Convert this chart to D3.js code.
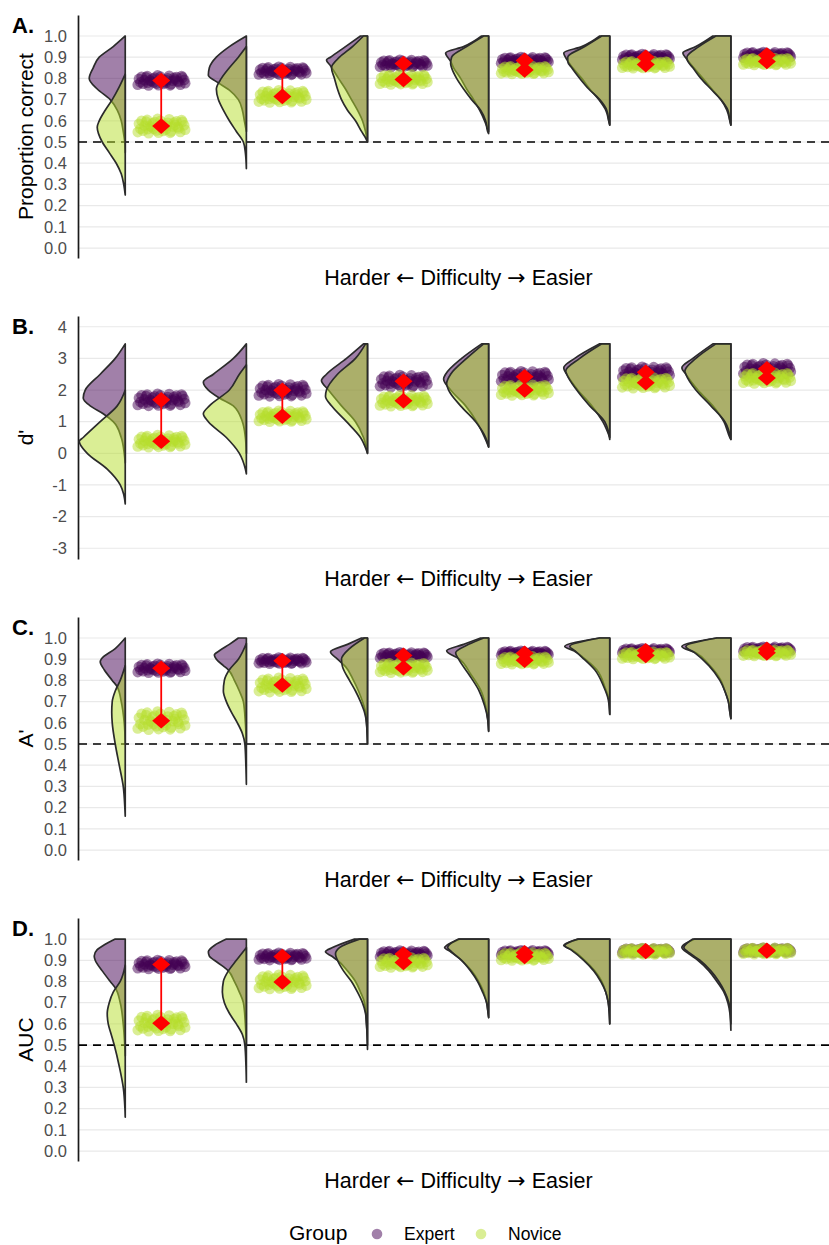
<!DOCTYPE html>
<html><head><meta charset="utf-8">
<script src="https://cdn.jsdelivr.net/npm/d3@7"></script>
<style>
body{margin:0;background:#fff}
svg{display:block}
text{font-family:"Liberation Sans",Arial,Helvetica,sans-serif}
</style></head>
<body><svg id="chart" width="829" height="1245"></svg>
<script>
// ---------------- DATA ----------------
const levels = ["L1","L2","L3","L4","L5","L6"];      // difficulty: harder -> easier
const groups = ["Expert","Novice"];
const panelLabels = ["A.","B.","C.","D."];
const yTitles = ["Proportion correct","d'","A'","AUC"];
const xTitle = "Harder \u2190 Difficulty \u2192 Easier";
const legendTitle = "Group";

const ticksUnit = [0,0.1,0.2,0.3,0.4,0.5,0.6,0.7,0.8,0.9,1.0];
const tickLabelsUnit = ["0.0","0.1","0.2","0.3","0.4","0.5","0.6","0.7","0.8","0.9","1.0"];
const ticksDprime = [-3,-2,-1,0,1,2,3,4];
const tickLabelsDprime = ["-3","-2","-1","0","1","2","3","4"];
const chanceLevel = [0.5, null, 0.5, 0.5];

// group means (red diamonds)
const meanExpertA = [0.79, 0.835, 0.87, 0.885, 0.90, 0.91];
const meanNoviceA = [0.575, 0.715, 0.795, 0.84, 0.865, 0.88];
const meanExpertB = [1.69, 1.99, 2.28, 2.42, 2.56, 2.67];
const meanNoviceB = [0.38, 1.17, 1.66, 2.0, 2.23, 2.38];
const meanExpertC = [0.857, 0.893, 0.918, 0.928, 0.94, 0.947];
const meanNoviceC = [0.61, 0.778, 0.86, 0.895, 0.918, 0.93];
const meanExpertD = [0.88, 0.918, 0.93, 0.935, 0.945, 0.947];
const meanNoviceD = [0.603, 0.798, 0.89, 0.918, 0.942, 0.944];

// vertical spread of the jittered participant points
const spreadExpertA = [0.025, 0.02, 0.018, 0.016, 0.015, 0.015];
const spreadNoviceA = [0.035, 0.03, 0.025, 0.02, 0.018, 0.018];
const spreadExpertB = [0.2, 0.2, 0.2, 0.18, 0.18, 0.18];
const spreadNoviceB = [0.2, 0.18, 0.18, 0.18, 0.18, 0.18];
const spreadExpertC = [0.022, 0.015, 0.015, 0.012, 0.012, 0.012];
const spreadNoviceC = [0.045, 0.035, 0.025, 0.02, 0.018, 0.016];
const spreadExpertD = [0.022, 0.018, 0.016, 0.013, 0.012, 0.012];
const spreadNoviceD = [0.04, 0.035, 0.025, 0.02, 0.016, 0.016];

// fixed jitter pattern [horizontal, vertical] in -1..1
const jitterPattern = [[-0.92,0.31],[-0.75,-0.62],[-0.58,0.84],[-0.41,-0.13],[-0.27,0.55],[-0.11,-0.88],[0.04,0.22],[0.19,-0.47],[0.33,0.91],[0.48,-0.05],[0.63,0.66],[0.79,-0.79],[0.95,0.12],[-0.86,-0.35],[-0.69,0.07],[-0.52,-0.95],[-0.36,0.38],[-0.2,-0.58],[-0.03,0.73],[0.12,-0.2],[0.27,0.44],[0.41,-0.71],[0.57,0.18],[0.72,-0.33],[0.88,0.59],[-0.97,-0.81],[-0.63,0.6],[-0.46,0.02],[-0.15,0.97],[0.08,-0.66],[0.23,0.05],[0.37,-0.91],[0.53,0.49],[0.68,-0.12],[0.84,0.83],[-0.81,0.72],[-0.31,-0.36],[0.0,-0.02],[0.99,-0.5],[-0.55,-0.4]];

// half-violin densities: [value, relative density]
const violinExpertA = [
 [[1.0,0],[0.95,12],[0.9,26],[0.85,32],[0.8,36],[0.75,28],[0.7,15],[0.65,8],[0.6,4],[0.55,2],[0.5,0.5],[0.45,0]],
 [[1.0,0],[0.95,17],[0.9,30],[0.85,37],[0.815,38],[0.785,30],[0.745,17],[0.7,8],[0.65,4],[0.6,2],[0.55,0]],
 [[1.0,7],[0.95,22],[0.9,37],[0.887,41],[0.86,37],[0.8,29],[0.75,22],[0.7,16],[0.65,10],[0.6,5],[0.55,2],[0.5,0]],
 [[1.0,7],[0.95,25],[0.92,43],[0.88,38],[0.85,35],[0.8,28],[0.75,22],[0.7,15],[0.65,9],[0.6,4],[0.55,0]],
 [[1.0,10],[0.95,28],[0.92,46],[0.89,43],[0.85,37],[0.8,28],[0.75,20],[0.7,11],[0.65,4],[0.6,1],[0.58,0]],
 [[1.0,18],[0.95,35],[0.92,48],[0.89,44],[0.85,37],[0.8,28],[0.75,19],[0.7,10],[0.65,4],[0.6,1],[0.58,0]]
];
const violinNoviceA = [
 [[0.82,0],[0.76,6],[0.7,13],[0.65,20],[0.6,26],[0.57,28],[0.5,23],[0.45,16],[0.4,9],[0.35,4],[0.3,1.5],[0.25,0]],
 [[0.95,0],[0.9,8],[0.85,17],[0.8,25],[0.75,30],[0.7,28],[0.65,23],[0.6,17],[0.55,10],[0.5,3],[0.45,1],[0.375,0]],
 [[1.0,4],[0.95,15],[0.9,28],[0.85,36],[0.8,33],[0.75,30],[0.7,26],[0.65,20],[0.6,12],[0.55,6],[0.52,2],[0.5,0]],
 [[1.0,5],[0.95,22],[0.9,37],[0.87,38],[0.85,37],[0.8,32],[0.75,25],[0.7,17],[0.65,8],[0.6,3],[0.55,1],[0.54,0]],
 [[1.0,8],[0.95,25],[0.9,42],[0.88,42],[0.85,38],[0.8,30],[0.75,21],[0.7,10],[0.65,3],[0.6,1],[0.58,0]],
 [[1.0,15],[0.95,32],[0.9,44],[0.88,43],[0.85,38],[0.8,30],[0.75,20],[0.7,10],[0.65,3],[0.6,1],[0.58,0]]
];
const violinExpertB = [
 [[3.46,0],[3.0,10],[2.5,25],[2.0,40],[1.75,42],[1.5,35],[1.25,22],[1.0,12],[0.5,4],[0,1],[-0.3,0]],
 [[3.46,0],[3.0,13],[2.5,33],[2.25,43],[2.0,38],[1.75,27],[1.5,13],[1.0,4],[0.5,1],[0,0]],
 [[3.46,4],[3.0,21],[2.5,41],[2.3,46],[2.0,39],[1.5,26],[1.0,12],[0.5,4],[0,0]],
 [[3.46,7],[3.0,27],[2.5,43],[2.35,45],[2.0,38],[1.5,23],[1.0,12],[0.5,4],[0.2,0]],
 [[3.46,10],[3.0,35],[2.7,46],[2.5,43],[2.0,32],[1.5,18],[1.0,7],[0.5,0]],
 [[3.46,18],[3.0,38],[2.7,49],[2.5,45],[2.0,33],[1.5,18],[1.0,7],[0.5,1],[0.44,0]]
];
const violinNoviceB = [
 [[2.0,0],[1.5,8],[1.0,25],[0.5,42],[0.38,46],[0,38],[-0.5,18],[-1.0,5],[-1.3,1.5],[-1.6,0]],
 [[2.8,0],[2.5,7],[2.0,17],[1.5,37],[1.25,43],[1.0,38],[0.5,20],[0,7],[-0.5,1],[-0.65,0]],
 [[3.46,2],[3.0,12],[2.5,30],[2.0,41],[1.8,42],[1.5,36],[1.0,21],[0.5,7],[0,0]],
 [[3.46,5],[3.0,22],[2.5,38],[2.2,42],[2.0,40],[1.5,28],[1.0,13],[0.5,3],[0.2,0]],
 [[3.46,8],[3.0,30],[2.6,44],[2.5,43],[2.0,33],[1.5,20],[1.0,5],[0.44,0]],
 [[3.46,15],[3.0,35],[2.6,46],[2.5,45],[2.0,35],[1.5,20],[1.0,6],[0.44,0]]
];
const violinExpertC = [
 [[1.0,0],[0.95,10],[0.9,24],[0.888,25],[0.85,21],[0.8,13],[0.77,8],[0.7,4],[0.6,1],[0.5,0]],
 [[1.0,8],[0.97,17],[0.94,27],[0.92,32],[0.9,30],[0.87,23],[0.85,18],[0.8,12],[0.75,7],[0.7,3],[0.6,1],[0.5,0]],
 [[1.0,6],[0.97,20],[0.935,37],[0.9,30],[0.865,22],[0.8,14],[0.75,9],[0.7,5],[0.65,2],[0.6,1],[0.5,0]],
 [[1.0,8],[0.97,25],[0.94,42],[0.9,29],[0.83,18],[0.755,8],[0.68,3],[0.62,1],[0.56,0]],
 [[1.0,10],[0.96,45],[0.94,36],[0.91,27],[0.85,13],[0.77,5],[0.71,1],[0.64,0]],
 [[1.0,14],[0.96,49],[0.93,35],[0.87,21],[0.8,10],[0.75,6],[0.7,2.5],[0.65,1],[0.62,0]]
];
const violinNoviceC = [
 [[0.87,0],[0.8,5],[0.75,10],[0.7,13],[0.65,13.5],[0.6,13],[0.5,10],[0.4,6],[0.3,2],[0.2,0.4],[0.16,0]],
 [[0.975,0],[0.9,8],[0.85,17],[0.8,22],[0.75,23],[0.7,20],[0.65,15],[0.6,9],[0.55,4],[0.5,1.5],[0.4,0.5],[0.31,0]],
 [[1.0,3],[0.95,18],[0.9,26],[0.865,25],[0.8,18],[0.75,12],[0.7,7],[0.65,3],[0.6,1],[0.5,0]],
 [[1.0,5],[0.97,20],[0.93,33],[0.9,30],[0.83,20],[0.755,10],[0.68,4],[0.62,1],[0.56,0]],
 [[1.0,10],[0.96,40],[0.94,35],[0.91,28],[0.85,15],[0.77,6],[0.71,1.5],[0.64,0]],
 [[1.0,14],[0.96,45],[0.93,36],[0.87,22],[0.8,11],[0.75,6],[0.7,2.5],[0.65,1],[0.62,0]]
];
const violinExpertD = [
 [[1.0,10],[0.97,22],[0.95,28],[0.92,31],[0.9,30],[0.85,23],[0.8,15],[0.77,10],[0.7,5],[0.6,2],[0.5,0.5],[0.45,0]],
 [[1.0,20],[0.97,32],[0.94,38],[0.92,37],[0.9,32],[0.87,23],[0.85,18],[0.8,12],[0.75,7],[0.7,3],[0.6,1],[0.5,0]],
 [[1.0,13],[0.96,35],[0.94,42],[0.92,36],[0.9,30],[0.85,20],[0.8,12],[0.75,7],[0.7,3],[0.6,1],[0.5,0]],
 [[1.0,29],[0.97,42],[0.96,44],[0.94,38],[0.9,27],[0.85,17],[0.8,10],[0.75,5],[0.7,2],[0.65,0.5],[0.63,0]],
 [[1.0,31],[0.97,46],[0.95,38],[0.9,25],[0.85,15],[0.8,8],[0.75,4],[0.7,1.5],[0.65,0.5],[0.6,0]],
 [[1.0,36],[0.96,49],[0.93,42],[0.9,33],[0.85,22],[0.8,14],[0.75,7],[0.7,3],[0.65,1],[0.57,0]]
];
const violinNoviceD = [
 [[0.877,0],[0.8,5],[0.75,12],[0.7,16],[0.65,18],[0.6,17],[0.55,14],[0.5,11],[0.4,6],[0.3,2],[0.2,0.3],[0.16,0]],
 [[0.96,0],[0.9,10],[0.85,18],[0.8,23],[0.75,24],[0.7,22],[0.65,17],[0.6,10],[0.55,4],[0.5,1.5],[0.4,0.4],[0.325,0]],
 [[1.0,8],[0.96,28],[0.93,32],[0.9,30],[0.85,24],[0.8,16],[0.75,10],[0.7,5],[0.65,2],[0.6,1],[0.48,0]],
 [[1.0,30],[0.97,40],[0.96,41],[0.94,37],[0.9,27],[0.85,18],[0.8,11],[0.75,6],[0.7,2],[0.65,0.5],[0.63,0]],
 [[1.0,32],[0.97,45],[0.95,39],[0.9,26],[0.85,16],[0.8,9],[0.75,4],[0.7,1.5],[0.65,0.5],[0.6,0]],
 [[1.0,38],[0.96,47],[0.93,40],[0.9,31],[0.85,20],[0.8,12],[0.75,6],[0.7,2],[0.65,0.5],[0.6,0]]
];

// ---------------- LAYOUT / STYLE ----------------
const axisX = 78, rightX = 829;
const panelTop = [15, 316, 617, 918];
const plotH = 243;
const colExpert = "#440154", colNovice = "#b5de2b";

const panels = [
 {label:panelLabels[0], title:yTitles[0], ticks:ticksUnit, tickLabels:tickLabelsUnit, domain:[-0.047,1.099], chance:chanceLevel[0],
  vE:violinExpertA, vN:violinNoviceA, mE:meanExpertA, mN:meanNoviceA, sE:spreadExpertA, sN:spreadNoviceA},
 {label:panelLabels[1], title:yTitles[1], ticks:ticksDprime, tickLabels:tickLabelsDprime, domain:[-3.34,4.34], chance:chanceLevel[1],
  vE:violinExpertB, vN:violinNoviceB, mE:meanExpertB, mN:meanNoviceB, sE:spreadExpertB, sN:spreadNoviceB},
 {label:panelLabels[2], title:yTitles[2], ticks:ticksUnit, tickLabels:tickLabelsUnit, domain:[-0.047,1.099], chance:chanceLevel[2],
  vE:violinExpertC, vN:violinNoviceC, mE:meanExpertC, mN:meanNoviceC, sE:spreadExpertC, sN:spreadNoviceC},
 {label:panelLabels[3], title:yTitles[3], ticks:ticksUnit, tickLabels:tickLabelsUnit, domain:[-0.047,1.0995], chance:chanceLevel[3],
  vE:violinExpertD, vN:violinNoviceD, mE:meanExpertD, mN:meanNoviceD, sE:spreadExpertD, sN:spreadNoviceD}
];

const svg = d3.select("#chart");
const x = d3.scalePoint().domain(levels).range([axisX, rightX]).padding(0.6);
const step = x.step();
const violinOffset = -0.21 * step;   // flat edge of half violin
const pointOffset = 0.087 * step;    // centre of jittered points
const jitterW = 0.2 * step;
const wScale = d3.scaleLinear().domain([0, 50]).range([0, 0.413 * step]);

function violinPath(knots, edge, y) {
  const pts = knots.slice().sort((a, b) => b[0] - a[0]);
  const line = d3.line().x(d => edge - wScale(d[1])).y(d => y(d[0])).curve(d3.curveMonotoneY);
  const yTop = y(pts[0][0]), yBot = y(pts[pts.length - 1][0]);
  return `M${edge},${yTop}` + line(pts).replace(/^M/, "L") + `L${edge},${yBot}Z`;
}

function arrowText(sel, str) {
  // render arrows with a font that has full-size arrow glyphs
  str.split(/([\u2190\u2192])/).forEach(part => {
    if (!part) return;
    const t = sel.append("tspan").text(part);
    if (part === "\u2190" || part === "\u2192") t.attr("font-family", "'DejaVu Sans', sans-serif").attr("font-size", 22);
  });
}

panels.forEach((p, pi) => {
  const top = panelTop[pi], bottom = top + plotH;
  const y = d3.scaleLinear().domain(p.domain).range([bottom, top]);
  const g = svg.append("g");

  // gridlines
  g.selectAll("line.grid").data(p.ticks).join("line")
    .attr("x1", axisX + 1).attr("x2", rightX)
    .attr("y1", d => y(d)).attr("y2", d => y(d))
    .attr("stroke", "#e9e9e9").attr("stroke-width", 1.2);

  // y axis
  const ax = g.append("g").attr("transform", `translate(${axisX},0)`)
    .call(d3.axisLeft(y).tickValues(p.ticks).tickFormat((d, i) => p.tickLabels[i]).tickSize(0).tickSizeOuter(0).tickPadding(11));
  ax.select(".domain").attr("stroke", "#1a1a1a").attr("stroke-width", 1.7);
  ax.selectAll("text").attr("fill", "#4d4d4d").attr("font-size", 16.5)
    .attr("font-family", "'Liberation Sans', Arial, sans-serif");

  // chance line
  if (p.chance !== null) {
    g.append("line").attr("x1", axisX + 1).attr("x2", rightX)
      .attr("y1", y(p.chance)).attr("y2", y(p.chance))
      .attr("stroke", "#000").attr("stroke-width", 1.7).attr("stroke-dasharray", "8,6");
  }

  // violins
  levels.forEach((lv, li) => {
    const edge = x(lv) + violinOffset;
    [[p.vE[li], colExpert], [p.vN[li], colNovice]].forEach(([k, c]) => {
      g.append("path").attr("d", violinPath(k, edge, y))
        .attr("fill", c).attr("fill-opacity", 0.5)
        .attr("stroke", "#2b2b2b").attr("stroke-width", 1.7).attr("stroke-linejoin", "round");
    });
  });

  // points
  levels.forEach((lv, li) => {
    const cx = x(lv) + pointOffset;
    [[p.mE[li], p.sE[li], colExpert], [p.mN[li], p.sN[li], colNovice]].forEach(([m, s, c]) => {
      g.append("g").selectAll("circle").data(jitterPattern).join("circle")
        .attr("cx", d => cx + d[0] * jitterW)
        .attr("cy", d => y(m + d[1] * s))
        .attr("r", 5.3).attr("fill", c).attr("fill-opacity", 0.5);
    });
  });

  // means
  levels.forEach((lv, li) => {
    const cx = x(lv) + pointOffset;
    g.append("line").attr("x1", cx).attr("x2", cx)
      .attr("y1", y(p.mE[li])).attr("y2", y(p.mN[li]))
      .attr("stroke", "#ff0000").attr("stroke-width", 1.8);
    [p.mE[li], p.mN[li]].forEach(m => {
      const cy = y(m);
      g.append("path").attr("d", `M${cx},${cy - 7.8}L${cx + 9},${cy}L${cx},${cy + 7.8}L${cx - 9},${cy}Z`)
        .attr("fill", "#ff0000");
    });
  });

  // texts
  g.append("text").attr("x", 12).attr("y", top + 18).attr("font-weight", "bold")
    .attr("font-size", 22).attr("fill", "#000").text(p.label);
  g.append("text").attr("transform", `translate(26,${(top + bottom) / 2}) rotate(-90)`)
    .attr("text-anchor", "middle").attr("dy", "0.35em").attr("font-size", 21).attr("fill", "#000").text(p.title);
  const xt = g.append("text").attr("x", (axisX + rightX) / 2 + 5).attr("y", bottom + 27)
    .attr("text-anchor", "middle").attr("font-size", 21.5).attr("fill", "#000");
  arrowText(xt, xTitle);
});

// legend
const leg = svg.append("g");
leg.append("text").attr("x", 289).attr("y", 1240).attr("font-size", 21).attr("fill", "#000").text(legendTitle);
const legX = [377, 481];
groups.forEach((gname, i) => {
  leg.append("circle").attr("cx", legX[i]).attr("cy", 1234).attr("r", 5.3)
    .attr("fill", i === 0 ? colExpert : colNovice).attr("fill-opacity", 0.5);
  leg.append("text").attr("x", legX[i] + 27).attr("y", 1240).attr("font-size", 17.5).attr("fill", "#000").text(gname);
});
</script></body></html>
